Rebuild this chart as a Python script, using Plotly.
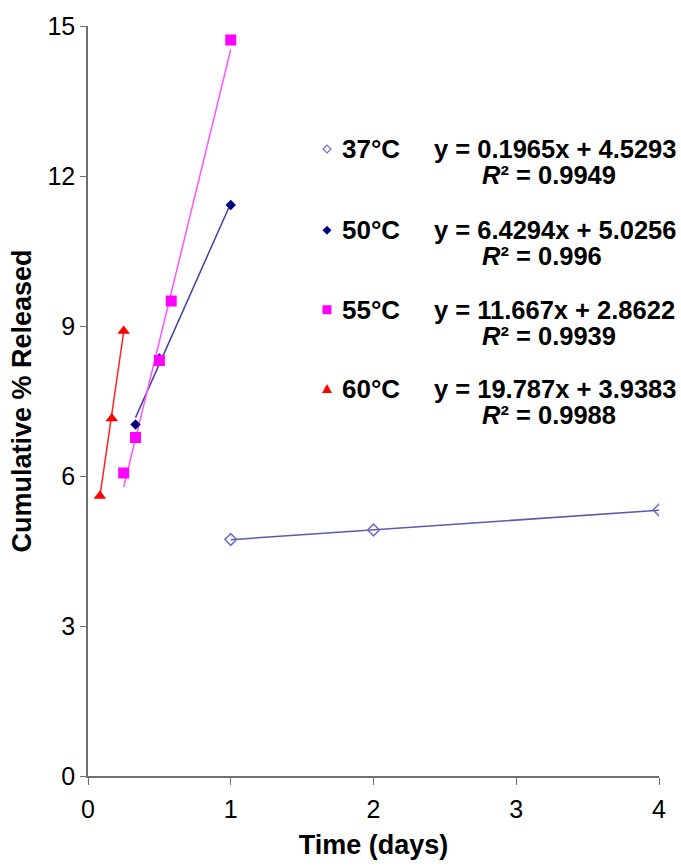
import plotly.graph_objects as go

# ---- data ----
series_names = ["37°C", "50°C", "55°C", "60°C"]
t37 = [1, 2, 4]
y37 = [4.73, 4.92, 5.32]
t50 = [0.333, 0.5, 1]
y50 = [7.03, 8.35, 11.42]
t55 = [0.25, 0.333, 0.5, 0.583, 1]
y55 = [6.06, 6.77, 8.31, 9.50, 14.72]
t60 = [0.0833, 0.1667, 0.25]
y60 = [5.60, 7.15, 8.90]
slopes = [0.1965, 6.4294, 11.667, 19.787]
intercepts = [4.5293, 5.0256, 2.8622, 3.9383]
r2_values = ["0.9949", "0.996", "0.9939", "0.9988"]
x_ticks = [0, 1, 2, 3, 4]
y_ticks = [0, 3, 6, 9, 12, 15]

FONT = "Liberation Sans, Arial, sans-serif"
W, H = 681, 867
ML, MR, MT, MB = 88, 22, 22, 89
PW, PH = W - ML - MR, H - MT - MB

marker_colors = ["#7070c0", "#000080", "#ff00ff", "#ff0000"]
line_colors = ["#5a5ab4", "#4040a0", "#ff55ff", "#ff2020"]
symbols = ["diamond-open", "diamond", "square", "triangle-up"]
sizes = [9, 8, 11, 11]

xs_all = [t37, t50, t55, t60]
ys_all = [y37, y50, y55, y60]

fig = go.Figure()
for i in range(4):
    xs = xs_all[i]
    x0, x1 = min(xs), max(xs)
    fig.add_trace(go.Scatter(
        x=[x0, x1], y=[slopes[i] * x0 + intercepts[i], slopes[i] * x1 + intercepts[i]],
        mode="lines", line=dict(color=line_colors[i], width=1.5),
        showlegend=False, hoverinfo="skip"))
for i in range(4):
    fig.add_trace(go.Scatter(
        x=xs_all[i], y=ys_all[i], mode="markers", name=series_names[i],
        marker=dict(symbol=symbols[i], size=sizes[i], color=marker_colors[i],
                    line=dict(width=1.5 if i == 0 else 0, color=marker_colors[i])),
        showlegend=False))


def px(xp):
    return (xp - ML) / PW


def py(yp):
    return (H - MB - yp) / PH


annotations = []
shapes = []
row_y = [146, 228, 308, 388]
r2_y = [172, 254, 334, 414]
sym_paths = [
    "M 0 -4 L 4 0 L 0 4 L -4 0 Z",
    "M 0 -4.5 L 4.5 0 L 0 4.5 L -4.5 0 Z",
    "M -4.5 -4.5 L 4.5 -4.5 L 4.5 4.5 L -4.5 4.5 Z",
    "M -5 -4 L 5 -4 L 0 5 Z",
]
for i in range(4):
    annotations.append(dict(
        x=px(340), y=py(row_y[i]), xref="paper", yref="paper",
        xanchor="left", yanchor="middle", showarrow=False,
        text="<b>" + series_names[i] + "</b>",
        font=dict(family=FONT, size=26, color="black")))
    annotations.append(dict(
        x=px(432), y=py(row_y[i]), xref="paper", yref="paper",
        xanchor="left", yanchor="middle", showarrow=False,
        text="<b>y = %sx + %s</b>" % (f"{slopes[i]:g}", f"{intercepts[i]:.4f}"),
        font=dict(family=FONT, size=25.5, color="black")))
    annotations.append(dict(
        x=px(480), y=py(r2_y[i]), xref="paper", yref="paper",
        xanchor="left", yanchor="middle", showarrow=False,
        text="<b><i>R</i>² = %s</b>" % r2_values[i],
        font=dict(family=FONT, size=25.5, color="black")))
    shapes.append(dict(
        type="path", xref="paper", yref="paper",
        xsizemode="pixel", ysizemode="pixel",
        xanchor=px(327), yanchor=py(row_y[i]),
        path=sym_paths[i],
        fillcolor="white" if i == 0 else marker_colors[i],
        line=dict(color=marker_colors[i], width=1.2 if i == 0 else 0)))

fig.update_layout(
    width=W, height=H,
    margin=dict(l=ML, r=MR, t=MT, b=MB, pad=0),
    paper_bgcolor="white", plot_bgcolor="white",
    font=dict(family=FONT, color="black"),
    xaxis=dict(range=[0, 4], tickvals=x_ticks, ticks="outside", ticklen=7,
               tickcolor="#707070", showline=True, linecolor="#707070", linewidth=1.5,
               showgrid=False, zeroline=False, tickfont=dict(size=25, family=FONT),
               ticklabelstandoff=3,
               title=dict(text="<b>Time (days)</b>", font=dict(size=27, family=FONT), standoff=13)),
    yaxis=dict(range=[0, 15], tickvals=y_ticks, ticks="outside", ticklen=6,
               tickcolor="#707070", showline=True, linecolor="#707070", linewidth=1.5,
               showgrid=False, zeroline=False, tickfont=dict(size=25, family=FONT),
               title=dict(text="<b>Cumulative % Released</b>", font=dict(size=27, family=FONT), standoff=8)),
    annotations=annotations, shapes=shapes,
    showlegend=False,
)

fig.write_html("out.html")
